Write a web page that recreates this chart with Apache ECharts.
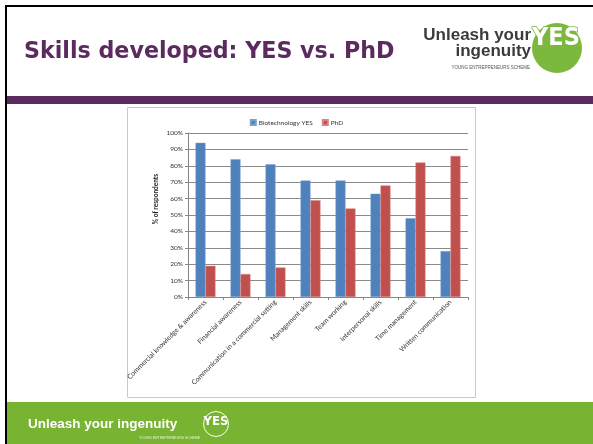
<!DOCTYPE html>
<html>
<head>
<meta charset="utf-8">
<script src="https://cdn.jsdelivr.net/npm/echarts@6/dist/echarts.min.js"></script>
<style>
html,body{margin:0;padding:0;background:#fff;}
#c{width:593px;height:444px;}
</style>
</head>
<body>
<div id="c"></div>
<script>
var categories = ["Commercial knowledge & awareness","Financial awareness","Communication in a commercial setting","Management skills","Team working","Interpersonal skills","Time management","Written communication"];
var yesValues = [94, 84, 81, 71, 71, 63, 48, 28];
var phdValues = [19, 14, 18, 59, 54, 68, 82, 86];
var seriesNames = ["Biotechnology YES", "PhD"];
var yTicks = [0,10,20,30,40,50,60,70,80,90,100];

var chart = echarts.init(document.getElementById('c'), null, {renderer:'canvas'});
var purple = '#5b2a5e';
var green = '#78b331';
var option = {
  backgroundColor: '#ffffff',
  animation: false,
  graphic: [
    {type:'rect', z:-10, shape:{x:5,y:5,width:588,height:2}, style:{fill:'#000'}},
    {type:'rect', z:-10, shape:{x:5,y:5,width:2,height:439}, style:{fill:'#000'}},
    {type:'rect', z:-10, shape:{x:7,y:96,width:586,height:8}, style:{fill:purple}},
    {type:'rect', z:-10, shape:{x:127.5,y:107.5,width:348,height:290}, style:{fill:'#fff', stroke:'#c8c8c8', lineWidth:1}},
    {type:'rect', z:-10, shape:{x:7,y:402,width:586,height:42}, style:{fill:green}},
    {type:'text', z:5, style:{text:'Skills developed: YES vs. PhD', x:24, y:52, font:'bold 22.2px "DejaVu Sans"', fill:purple, verticalAlign:'middle', align:'left'}},
    // logo top right
    {type:'circle', z:5, shape:{cx:557, cy:48, r:25}, style:{fill:'#7cb83e'}},
    {type:'text', z:6, style:{text:'YES', x:556, y:38, font:'bold 25px "DejaVu Sans Condensed"', fill:'#fff', stroke:'#7cb83e', lineWidth:1.5, align:'center', verticalAlign:'middle'}},
    {type:'text', z:6, style:{text:'Unleash your', x:531, y:35, font:'bold 17px "Liberation Sans"', fill:'#3b3b3b', align:'right', verticalAlign:'middle'}},
    {type:'text', z:6, style:{text:'ingenuity', x:531, y:51, font:'bold 17px "Liberation Sans"', fill:'#3b3b3b', align:'right', verticalAlign:'middle'}},
    {type:'text', z:6, style:{text:'YOUNG ENTREPRENEURS SCHEME', x:530, y:68, font:'4.5px "Liberation Sans"', fill:'#555', align:'right', verticalAlign:'middle'}},
    // footer logo
    {type:'text', z:6, style:{text:'Unleash your ingenuity', x:28, y:424, font:'bold 13.5px "Liberation Sans"', fill:'#fff', align:'left', verticalAlign:'middle'}},
    {type:'circle', z:6, shape:{cx:216, cy:424, r:12.5}, style:{fill:'none', stroke:'#fff', lineWidth:1}},
    {type:'text', z:6, style:{text:'YES', x:216, y:422, font:'bold 13px "DejaVu Sans Condensed"', fill:'#fff', align:'center', verticalAlign:'middle'}},
    {type:'text', z:6, style:{text:'YOUNG ENTREPRENEURS SCHEME', x:200, y:438, font:'3.5px "Liberation Sans"', fill:'#e8f3d8', align:'right', verticalAlign:'middle'}},
    // y axis title
    {type:'text', z:6, x:156, y:199, rotation:Math.PI/2, style:{text:'% of respondents', x:0, y:0, font:'bold 6.5px Lato', fill:'#222', align:'center', verticalAlign:'middle'}}
  ],
  legend: {
    data: seriesNames,
    top: 114,
    left: 'center',
    itemWidth: 5,
    itemHeight: 5,
    itemGap: 9,
    icon: 'rect',
    textStyle: {fontSize: 6.5, fontFamily: 'Lato', color: '#333', padding:[0,0,0,-2]}
  },
  grid: {left:188, right:125, top:133, bottom:147, containLabel:false},
  xAxis: {
    type:'category',
    data: categories,
    axisLine:{lineStyle:{color:'#868686', width:1}},
    axisTick:{show:true, length:3, lineStyle:{color:'#868686'}},
    axisLabel:{rotate:45, fontSize:6.8, fontFamily:'Lato', color:'#333', margin:4, interval:0}
  },
  yAxis: {
    type:'value',
    min:0, max:100, interval:10,
    axisLine:{show:true, lineStyle:{color:'#868686', width:1}},
    axisTick:{show:true, length:3, lineStyle:{color:'#868686'}},
    axisLabel:{formatter:function(v){return v+'%';}, fontSize:6.5, fontFamily:'Lato', color:'#333', margin:5},
    splitLine:{lineStyle:{color:'#8a8a8a', width:1}}
  },
  series: [
    {name:seriesNames[0], type:'bar', data:yesValues, barGap:'0%', barCategoryGap:'43%', itemStyle:{color:'#4f81bd', borderColor:'#7aa0d0', borderWidth:0.5}},
    {name:seriesNames[1], type:'bar', data:phdValues, barGap:'0%', barCategoryGap:'43%', itemStyle:{color:'#c0504d', borderColor:'#d88381', borderWidth:0.5}}
  ]
};
chart.setOption(option);
</script>
</body>
</html>
